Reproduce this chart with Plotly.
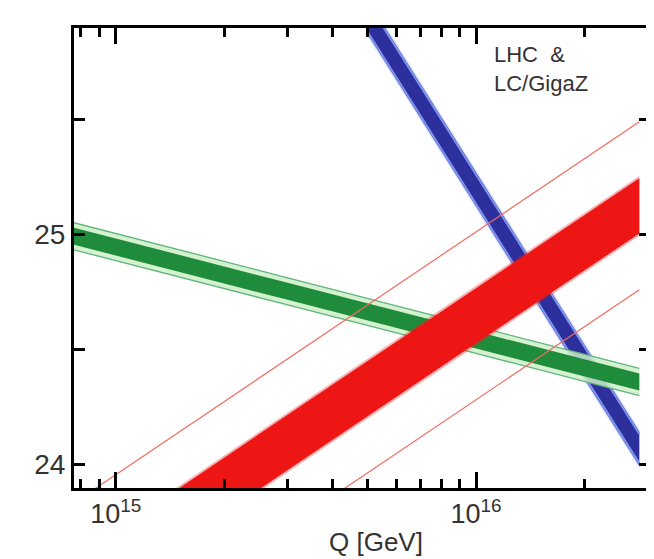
import plotly.graph_objects as go

# scale Q in GeV, inverse couplings
q_gev = [7.5e14, 1e15, 3e15, 1e16, 2.84e16]
green_mid = [24.994, 24.944, 24.751, 24.540, 24.357]
red_mid = [23.457, 23.589, 24.094, 24.645, 25.123]

blue_q = [5e15, 1e16, 2e16, 2.84e16]
blue_mid = [25.944, 25.195, 24.445, 24.067]

# half widths of the bands
green_core = 0.037
green_err = 0.059
blue_err = 0.074
red_core = 0.12
red_err = 0.365

x_ticks = [1e15, 1e16]
x_ticktext = ['10<sup>15</sup>', '10<sup>16</sup>']
y_ticks = [24, 25]
y_minor = [24.5, 25.5]
x_minor = [8e14, 9e14, 2e15, 3e15, 4e15, 5e15, 6e15, 7e15, 8e15, 9e15, 2e16]

FONT = 'Liberation Sans, Arial, sans-serif'


def band(q, mid, hw):
    xs = list(q) + list(q)[::-1]
    ys = [m + hw for m in mid] + [m - hw for m in mid][::-1]
    return xs, ys


def shifted(mid, d):
    return [m + d for m in mid]


fig = go.Figure()

# blue band
bx, by = band(blue_q, blue_mid, blue_err + 0.012)
fig.add_trace(go.Scatter(x=bx, y=by, fill='toself', mode='none',
                         fillcolor='rgba(150,170,240,0.3)', hoverinfo='skip'))
bx, by = band(blue_q, blue_mid, blue_err)
fig.add_trace(go.Scatter(x=bx, y=by, fill='toself', mode='none',
                         fillcolor='#2c2f9c', hoverinfo='skip'))
for s in (-1, 1):
    fig.add_trace(go.Scatter(x=blue_q, y=shifted(blue_mid, s * (blue_err - 0.01)), mode='lines',
                             line=dict(color='#7d95ee', width=2), hoverinfo='skip'))

# green band
gx, gy = band(q_gev, green_mid, green_err)
fig.add_trace(go.Scatter(x=gx, y=gy, fill='toself', mode='none',
                         fillcolor='rgba(205,238,200,0.85)', hoverinfo='skip'))
for s in (-1, 1):
    fig.add_trace(go.Scatter(x=q_gev, y=shifted(green_mid, s * green_err), mode='lines',
                             line=dict(color='#5fb47a', width=1.3), hoverinfo='skip'))
gx, gy = band(q_gev, green_mid, green_core)
fig.add_trace(go.Scatter(x=gx, y=gy, fill='toself', mode='none',
                         fillcolor='#1f8c3b', hoverinfo='skip'))

# red band
rx, ry = band(q_gev, red_mid, red_core + 0.01)
fig.add_trace(go.Scatter(x=rx, y=ry, fill='toself', mode='none',
                         fillcolor='rgba(238,30,30,0.35)', hoverinfo='skip'))
rx, ry = band(q_gev, red_mid, red_core)
fig.add_trace(go.Scatter(x=rx, y=ry, fill='toself', mode='none',
                         fillcolor='#ee1515', hoverinfo='skip'))
for s in (-1, 1):
    fig.add_trace(go.Scatter(x=q_gev, y=shifted(red_mid, s * red_err), mode='lines',
                             line=dict(color='#f36a60', width=1.2), hoverinfo='skip'))

fig.add_annotation(x=0.725, y=0.975, xref='paper', yref='paper', xanchor='left', yanchor='top',
                   text='LHC  &<br>LC/GigaZ', showarrow=False, align='left',
                   font=dict(family=FONT, size=22, color='#333333'))
fig.add_annotation(x=0.525, y=-0.118, xref='paper', yref='paper', xanchor='center', yanchor='middle',
                   text='Q [GeV]', showarrow=False,
                   font=dict(family=FONT, size=26, color='#333333'))

fig.update_xaxes(type='log', range=[14.884, 16.483],
                 tickvals=x_ticks, ticktext=x_ticktext,
                 ticks='inside', ticklen=16, tickwidth=2.5, tickcolor='black',
                 minor=dict(ticks='inside', ticklen=9, tickwidth=2.5, tickcolor='black',
                            tickvals=x_minor),
                 showline=True, linecolor='black', linewidth=3, mirror='ticks',
                 showgrid=False, zeroline=False,
                 tickfont=dict(family=FONT, size=27, color='#333333'))
fig.update_yaxes(range=[23.896, 25.896],
                 tickvals=y_ticks, ticks='inside', ticklen=11, tickwidth=2.5, tickcolor='black',
                 minor=dict(ticks='inside', ticklen=11, tickwidth=2.5, tickcolor='black',
                            tickvals=y_minor),
                 showline=True, linecolor='black', linewidth=3, mirror='ticks',
                 showgrid=False, zeroline=False,
                 tickfont=dict(family=FONT, size=28, color='#333333'))

fig.update_layout(width=654, height=559, showlegend=False,
                  margin=dict(l=66, r=9, t=20, b=79),
                  paper_bgcolor='white', plot_bgcolor='white')

fig.write_html("out.html")
